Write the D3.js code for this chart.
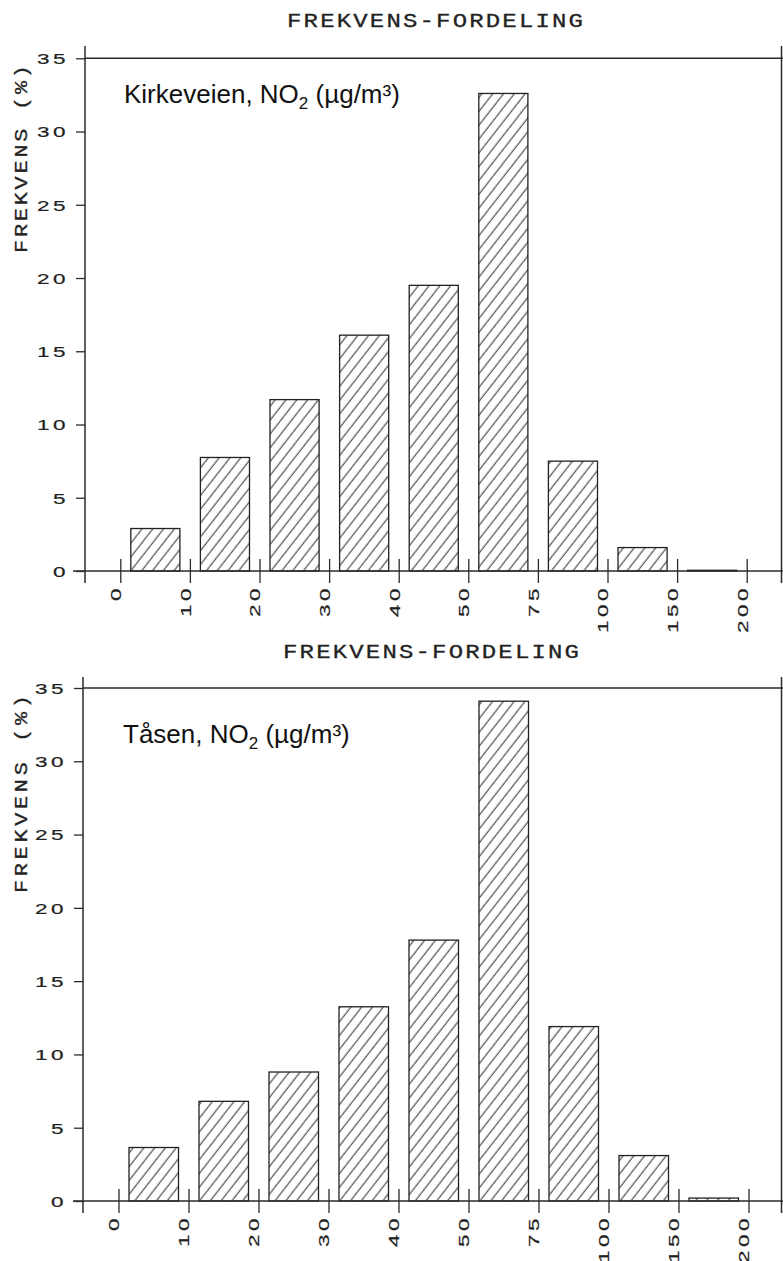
<!DOCTYPE html>
<html>
<head>
<meta charset="utf-8">
<script src="https://cdn.jsdelivr.net/npm/d3@7"></script>
<style>
  body { margin: 0; background: #fff; }
  svg { display: block; }
</style>
</head>
<body>
<div id="chart"></div>
<script>
(function () {
    "use strict";

    // class limits on the x axis (µg/m3)
    var binLabels = ["0", "10", "20", "30", "40", "50", "75", "100", "150", "200"];
    // frequency (%) per class
    var kirkeveien = [2.9, 7.75, 11.7, 16.1, 19.5, 32.6, 7.5, 1.6, 0.05];
    var taasen = [3.65, 6.8, 8.8, 13.25, 17.8, 34.1, 11.9, 3.1, 0.2];
    var yTicks = [0, 5, 10, 15, 20, 25, 30, 35];
    var titleText = "FREKVENS-FORDELING";
    var yTitleText = "FREKVENS (%)";

    var config = {
        width: 783,
        height: 1261,
        ink: "#2a2a2a"
    };

    var panels = [
        { station: "Kirkeveien", values: kirkeveien, y0: 571, yTop: 58.3, xFirst: 120.3, xLast: 746.7,
          axisX: 85, lineTop: 46, lineBottom: 583, titleX: 435, titleY: 27.3,
          legendX: 124, legendY: 103, yTitleMid: 159, yTitleLen: 188 },
        { station: "Tåsen", values: taasen, y0: 1201, yTop: 688, xFirst: 118.5, xLast: 748.5,
          axisX: 83, lineTop: 677, lineBottom: 1213, titleX: 431, titleY: 658,
          legendX: 123, legendY: 743, yTitleMid: 794, yTitleLen: 198 }
    ];

    var svg = d3.select("#chart").append("svg")
        .attr("width", config.width)
        .attr("height", config.height);

    var pattern = svg.append("defs").append("pattern")
        .attr("id", "hatch")
        .attr("patternUnits", "userSpaceOnUse")
        .attr("width", 8.5)
        .attr("height", 8.5)
        .attr("patternTransform", "rotate(38)");
    pattern.append("rect").attr("width", 8.5).attr("height", 8.5).attr("fill", "#fff");
    pattern.append("line")
        .attr("x1", 4).attr("y1", 0).attr("x2", 4).attr("y2", 8.5)
        .attr("stroke", "#2e2e2e").attr("stroke-width", 1);

    function wideDigits(sel, transform) {
        sel.attr("x", null)
            .attr("y", null)
            .attr("dy", "0.36em")
            .attr("transform", transform)
            .attr("text-anchor", "end")
            .attr("font-family", "Liberation Sans, sans-serif")
            .attr("font-size", 15)
            .attr("letter-spacing", 2.3)
            .attr("fill", "#222")
            .attr("stroke", "#222")
            .attr("stroke-width", 0.2);
    }

    function drawPanel(p) {
        var g = svg.append("g");
        var x = d3.scaleLinear().domain([0, binLabels.length - 1]).range([p.xFirst, p.xLast]);
        var y = d3.scaleLinear().domain([0, 35]).range([p.y0, p.yTop]);

        // title
        g.append("text")
            .attr("transform", "translate(" + p.titleX + "," + p.titleY + ") scale(1.2,1)")
            .attr("text-anchor", "middle")
            .attr("font-family", "Liberation Mono, monospace")
            .attr("font-size", 20)
            .attr("fill", "#222")
            .attr("stroke", "#222")
            .attr("stroke-width", 0.3)
            .attr("textLength", 296 / 1.2)
            .attr("lengthAdjust", "spacing")
            .text(titleText);

        // y title
        g.append("text")
            .attr("transform", "translate(27," + p.yTitleMid + ") rotate(-90) scale(1.15,1)")
            .attr("text-anchor", "middle")
            .attr("font-family", "Liberation Mono, monospace")
            .attr("font-size", 19)
            .attr("fill", "#222")
            .attr("stroke", "#222")
            .attr("stroke-width", 0.3)
            .attr("textLength", p.yTitleLen / 1.15)
            .attr("lengthAdjust", "spacing")
            .text(yTitleText);

        // bars
        g.append("g").selectAll("rect")
            .data(p.values)
            .enter().append("rect")
            .attr("x", function (d, i) { return x(i) + 10.5; })
            .attr("width", function (d, i) { return x(i + 1) - x(i) - 20.5; })
            .attr("y", function (d) { return y(d); })
            .attr("height", function (d) { return p.y0 - y(d); })
            .attr("fill", "url(#hatch)")
            .attr("stroke", "#222")
            .attr("stroke-width", 1.3);

        // frame lines
        g.append("line")
            .attr("x1", p.axisX).attr("x2", config.width)
            .attr("y1", y(35)).attr("y2", y(35))
            .attr("stroke", config.ink).attr("stroke-width", 1.5);
        g.append("line")
            .attr("x1", 781.5).attr("x2", 781.5)
            .attr("y1", p.lineTop).attr("y2", p.lineBottom)
            .attr("stroke", config.ink).attr("stroke-width", 1.5);
        g.append("line")
            .attr("x1", p.axisX).attr("x2", p.axisX)
            .attr("y1", p.lineTop).attr("y2", p.lineBottom)
            .attr("stroke", config.ink).attr("stroke-width", 1.5);
        g.append("line")
            .attr("x1", 73).attr("x2", config.width)
            .attr("y1", p.y0).attr("y2", p.y0)
            .attr("stroke", config.ink).attr("stroke-width", 1.5);

        // y axis
        var yAxis = g.append("g")
            .attr("transform", "translate(" + p.axisX + ",0)")
            .call(d3.axisLeft(y).tickValues(yTicks).tickSize(9).tickFormat(d3.format("d")));
        yAxis.select(".domain").remove();
        yAxis.selectAll(".tick line").attr("stroke", config.ink).attr("stroke-width", 1.3);
        wideDigits(yAxis.selectAll(".tick text"), "translate(-16,0) scale(1.5,1)");

        // x axis
        var xAxis = g.append("g")
            .attr("transform", "translate(0," + p.y0 + ")")
            .call(d3.axisBottom(x)
                .tickValues(d3.range(binLabels.length))
                .tickFormat(function (i) { return binLabels[i]; })
                .tickSize(12));
        xAxis.select(".domain").remove();
        xAxis.selectAll(".tick line")
            .attr("y1", -12).attr("y2", 12)
            .attr("stroke", config.ink).attr("stroke-width", 1.3);
        wideDigits(xAxis.selectAll(".tick text"), "translate(-5,14) rotate(-90) scale(1.5,1)");

        // station label
        var lab = g.append("text")
            .attr("x", p.legendX)
            .attr("y", p.legendY)
            .attr("font-family", "Liberation Sans, Arial, sans-serif")
            .attr("font-size", 26)
            .attr("fill", "#111");
        lab.append("tspan").text(p.station + ", NO");
        lab.append("tspan").attr("font-size", 17).attr("dy", 6).text("2");
        lab.append("tspan").attr("dy", -6).text(" (µg/m³)");
    }

    panels.forEach(drawPanel);
})();
</script>
</body>
</html>
